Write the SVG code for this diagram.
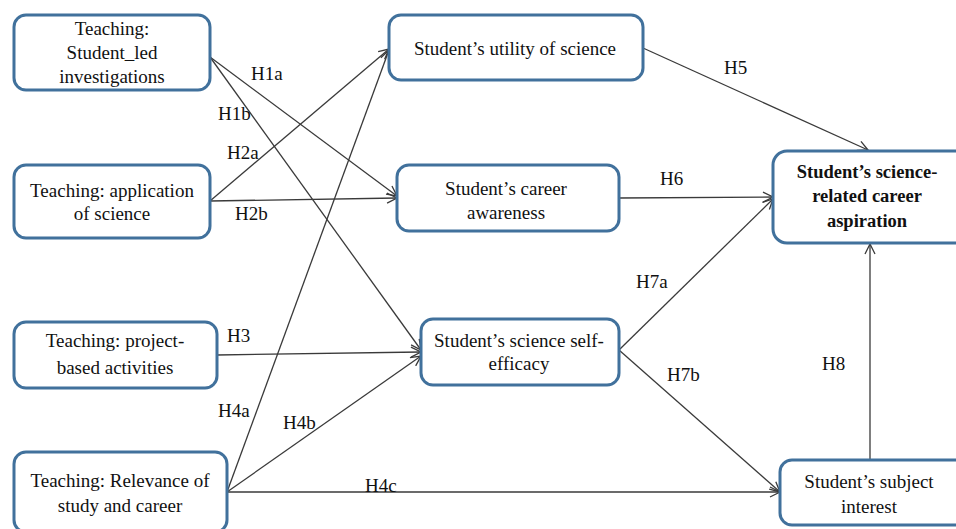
<svg xmlns="http://www.w3.org/2000/svg" width="956" height="529" viewBox="0 0 956 529">
<style>
.box{fill:#fff;stroke:#41719C;stroke-width:3}
.t{font-family:"Liberation Serif","Times New Roman",serif;font-size:19px;fill:#111;text-anchor:middle}
.b{font-weight:bold;font-size:18.5px}
.lbl{font-family:"Liberation Serif","Times New Roman",serif;font-size:19px;fill:#111}
.c{stroke:#3a3a3a;stroke-width:1.3;fill:none;marker-end:url(#ah)}
</style>
<defs>
<marker id="ah" viewBox="0 0 12 12" refX="11" refY="6" markerWidth="12" markerHeight="12" markerUnits="userSpaceOnUse" orient="auto">
<path d="M1,1 L11,6 L1,11" fill="none" stroke="#3a3a3a" stroke-width="1.3"/>
</marker>
</defs>
<rect width="956" height="529" fill="#fff"/>
<g id="connectors">
<line class="c" x1="210" y1="57" x2="397" y2="196"/>
<line class="c" x1="210" y1="57" x2="421" y2="350"/>
<line class="c" x1="210" y1="201" x2="389" y2="49"/>
<line class="c" x1="210" y1="201" x2="397" y2="198"/>
<line class="c" x1="217" y1="355" x2="421" y2="352"/>
<line class="c" x1="227" y1="492" x2="389" y2="50"/>
<line class="c" x1="227" y1="492" x2="421" y2="356"/>
<line class="c" x1="227" y1="492" x2="780" y2="492"/>
<line class="c" x1="643" y1="48" x2="868" y2="150"/>
<line class="c" x1="619" y1="198" x2="773" y2="197"/>
<line class="c" x1="619" y1="350" x2="773" y2="199"/>
<line class="c" x1="619" y1="350" x2="780" y2="492"/>
<line class="c" x1="870" y1="459" x2="870" y2="244"/>
<text class="lbl" x="251" y="80">H1a</text>
<text class="lbl" x="218" y="120">H1b</text>
<text class="lbl" x="227" y="159">H2a</text>
<text class="lbl" x="235" y="220">H2b</text>
<text class="lbl" x="227" y="342">H3</text>
<text class="lbl" x="218" y="417">H4a</text>
<text class="lbl" x="283" y="429">H4b</text>
<text class="lbl" x="365" y="492">H4c</text>
<text class="lbl" x="724" y="74">H5</text>
<text class="lbl" x="660" y="185">H6</text>
<text class="lbl" x="636" y="288">H7a</text>
<text class="lbl" x="667" y="381">H7b</text>
<text class="lbl" x="822" y="370">H8</text>
</g>
<g id="n1"><rect class="box" x="14" y="15" width="196" height="75" rx="12"/>
<text class="t" x="112" y="35">Teaching:</text><text class="t" x="112" y="59">Student_led</text><text class="t" x="112" y="83">investigations</text></g>
<g id="n2"><rect class="box" x="14" y="165" width="196" height="73" rx="12"/>
<text class="t" x="112" y="197">Teaching: application</text><text class="t" x="112" y="220">of science</text></g>
<g id="n3"><rect class="box" x="14" y="322" width="203" height="66" rx="12"/>
<text class="t" x="115" y="347">Teaching: project-</text><text class="t" x="115" y="374">based activities</text></g>
<g id="n4"><rect class="box" x="14" y="452" width="213" height="80" rx="12"/>
<text class="t" x="120" y="487">Teaching: Relevance of</text><text class="t" x="120" y="512">study and career</text></g>
<g id="n5"><rect class="box" x="389" y="15" width="254" height="65" rx="12"/>
<text class="t" x="515" y="55">Student’s utility of science</text></g>
<g id="n6"><rect class="box" x="397" y="165" width="222" height="66" rx="12"/>
<text class="t" x="506" y="195">Student’s career</text><text class="t" x="506" y="219">awareness</text></g>
<g id="n7"><rect class="box" x="421" y="319" width="198" height="66" rx="12"/>
<text class="t" x="519" y="347">Student’s science self-</text><text class="t" x="519" y="370">efficacy</text></g>
<g id="n8"><rect class="box" x="773" y="151" width="200" height="92" rx="14"/>
<text class="t b" x="867" y="178">Student’s science-</text><text class="t b" x="867" y="202">related career</text><text class="t b" x="867" y="227">aspiration</text></g>
<g id="n9"><rect class="box" x="780" y="460" width="200" height="65" rx="12"/>
<text class="t" x="869" y="488">Student’s subject</text><text class="t" x="869" y="513">interest</text></g>
</svg>
